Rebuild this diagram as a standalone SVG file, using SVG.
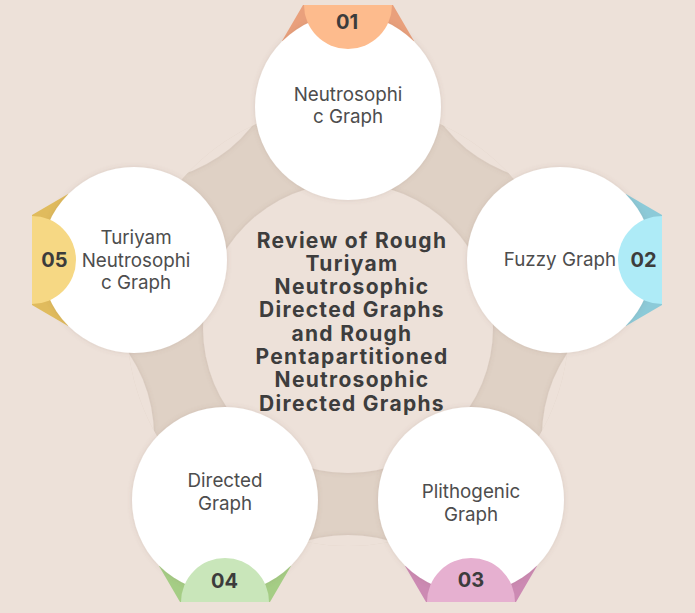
<svg xmlns="http://www.w3.org/2000/svg" width="695" height="613" viewBox="0 0 695 613">
<defs>
<style>
.bg{fill:#ede1d9}
.band{fill:#dfd1c5}
.gap{fill:#ede1d9}
.node{fill:#ffffff}
.lbl{font-family:Inter,"Liberation Sans",sans-serif;font-size:18.8px;fill:#4d4d4d;text-anchor:middle}
.num{font-family:Inter,"Liberation Sans",sans-serif;font-size:20px;font-weight:700;fill:#3c3c3c;text-anchor:middle}
.title{font-family:Inter,"Liberation Sans",sans-serif;font-size:21px;font-weight:700;fill:#3d3d3d;text-anchor:middle;letter-spacing:1.3px}
</style>
<filter id="sh" x="-20%" y="-20%" width="140%" height="140%">
<feDropShadow dx="0" dy="0" stdDeviation="2.5" flood-color="#7a6050" flood-opacity="0.18"/>
</filter>
<clipPath id="bandClip"><circle cx="348" cy="325" r="221"/></clipPath>
</defs>
<rect class="bg" x="0" y="0" width="695" height="613"/>
<g id="connectors">
<circle class="band" cx="348" cy="325" r="221"/>
<g clip-path="url(#bandClip)">
<g filter="url(#sh)">
<circle class="gap" cx="560" cy="34" r="148"/>
<circle class="gap" cx="690" cy="436" r="148"/>
<circle class="gap" cx="348" cy="683" r="148"/>
<circle class="gap" cx="6" cy="436" r="148"/>
<circle class="gap" cx="136" cy="34" r="148"/>
</g>
</g>
</g>
<g id="center">
<circle class="bg" cx="348" cy="328" r="145" filter="url(#sh)"/>
<text class="title" x="352"><tspan x="352" y="247.5">Review of Rough</tspan><tspan x="352" y="270.8">Turiyam</tspan><tspan x="352" y="294.1">Neutrosophic</tspan><tspan x="352" y="317.4">Directed Graphs</tspan><tspan x="352" y="340.7">and Rough</tspan><tspan x="352" y="364">Pentapartitioned</tspan><tspan x="352" y="387.3">Neutrosophic</tspan><tspan x="352" y="410.6">Directed Graphs</tspan></text>
</g>
<g id="node01">
<polygon fill="#e9a07c" points="-45,0 45,0 66,36 0,75 -66,36" transform="translate(348,5)"/>
<circle class="node" cx="348" cy="107" r="93" filter="url(#sh)"/>
<path fill="#fdbb8d" d="M-44 0A44 44 0 0 0 44 0Z" transform="translate(348,5)"/>
<text class="num" x="347" y="28.5">01</text>
<text class="lbl"><tspan x="348" y="100.5">Neutrosophi</tspan><tspan x="348" y="123">c Graph</tspan></text>
</g>
<g id="node02">
<polygon fill="#8ccad8" points="-45,0 45,0 66,36 0,75 -66,36" transform="translate(662,260) rotate(90)"/>
<circle class="node" cx="560" cy="260" r="93" filter="url(#sh)"/>
<path fill="#aeebf7" d="M-44 0A44 44 0 0 0 44 0Z" transform="translate(662,260) rotate(90)"/>
<text class="num" x="643.5" y="267">02</text>
<text class="lbl" x="560" y="266">Fuzzy Graph</text>
</g>
<g id="node03">
<polygon fill="#cc8ab3" points="-45,0 45,0 66,36 0,75 -66,36" transform="translate(471,602) rotate(180)"/>
<circle class="node" cx="471" cy="500" r="93" filter="url(#sh)"/>
<path fill="#e6b0d0" d="M-44 0A44 44 0 0 0 44 0Z" transform="translate(471,602) rotate(180)"/>
<text class="num" x="471" y="587">03</text>
<text class="lbl"><tspan x="471" y="498">Plithogenic</tspan><tspan x="471" y="521">Graph</tspan></text>
</g>
<g id="node04">
<polygon fill="#a5cd85" points="-45,0 45,0 66,36 0,75 -66,36" transform="translate(225,602) rotate(180)"/>
<circle class="node" cx="225" cy="500" r="93" filter="url(#sh)"/>
<path fill="#c9e6ba" d="M-44 0A44 44 0 0 0 44 0Z" transform="translate(225,602) rotate(180)"/>
<text class="num" x="224.5" y="588">04</text>
<text class="lbl"><tspan x="225" y="487">Directed</tspan><tspan x="225" y="510">Graph</tspan></text>
</g>
<g id="node05">
<polygon fill="#e0bb5d" points="-45,0 45,0 66,36 0,75 -66,36" transform="translate(32,260) rotate(-90)"/>
<circle class="node" cx="134" cy="260" r="93" filter="url(#sh)"/>
<path fill="#f6d884" d="M-44 0A44 44 0 0 0 44 0Z" transform="translate(32,260) rotate(-90)"/>
<text class="num" x="54.5" y="267">05</text>
<text class="lbl"><tspan x="136" y="244">Turiyam</tspan><tspan x="136" y="267">Neutrosophi</tspan><tspan x="136" y="289">c Graph</tspan></text>
</g>
</svg>
